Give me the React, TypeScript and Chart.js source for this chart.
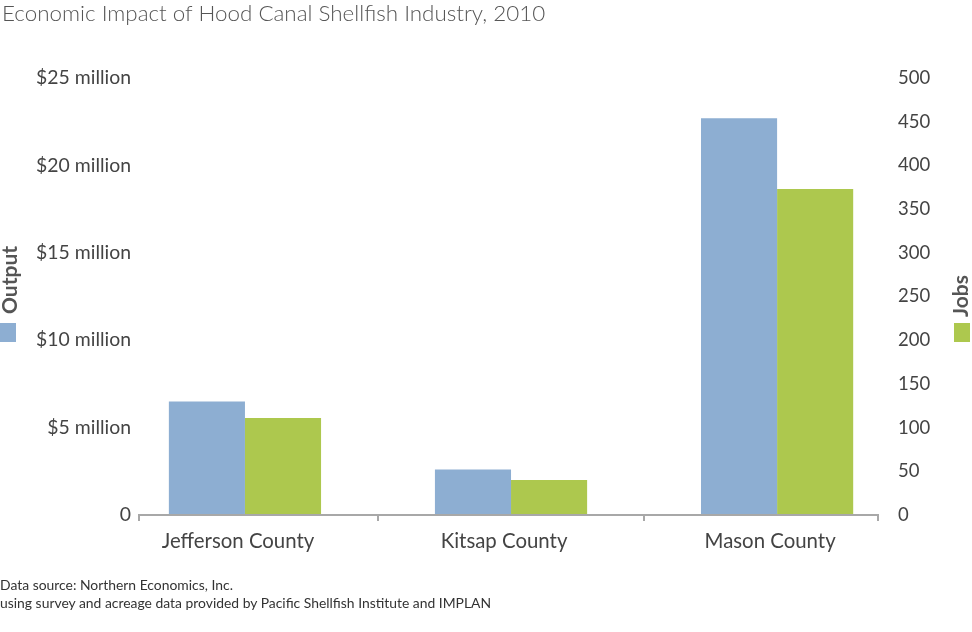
import React, { useEffect, useRef } from "react";
import { Chart, registerables } from "chart.js";

Chart.register(...registerables);

const categories = ["Jefferson County", "Kitsap County", "Mason County"];
const outputMillions = [6.5, 2.6, 22.7];
const jobs = [111, 40, 373];
const outputTicks = [0, 5, 10, 15, 20, 25];
const jobTicks = [0, 50, 100, 150, 200, 250, 300, 350, 400, 450, 500];

const BLUE = "rgb(141,174,210)";
const GREEN = "rgb(173,200,78)";
const TEXT = "#444";
const FONT = "Lato, 'Open Sans', sans-serif";

const axisLinePlugin = {
  id: "axisLine",
  afterDatasetsDraw(chart: any) {
    const { ctx, chartArea } = chart;
    const x = chart.scales.x;
    const y = chartArea.bottom;
    const n = categories.length;
    const left = chartArea.left;
    const right = chartArea.right;
    ctx.save();
    ctx.strokeStyle = "#a8a8a8";
    ctx.lineWidth = 2;
    ctx.beginPath();
    ctx.moveTo(left, y);
    ctx.lineTo(right, y);
    const tickXs = [left + 1, right - 1];
    for (let i = 0; i < n - 1; i++) {
      tickXs.push(Math.round(x.getPixelForValue(i + 0.5)));
    }
    tickXs.forEach((tx) => {
      ctx.moveTo(tx, y);
      ctx.lineTo(tx, y + 6);
    });
    ctx.stroke();
    ctx.restore();
  },
};

export default function App() {
  const canvasRef = useRef<HTMLCanvasElement | null>(null);

  useEffect(() => {
    if (!canvasRef.current) return;
    const chart = new Chart(canvasRef.current, {
      type: "bar",
      data: {
        labels: categories,
        datasets: [
          {
            label: "Output",
            data: outputMillions.map((v, i) => ({ x: i, y: v })),
            backgroundColor: BLUE,
            yAxisID: "yOut",
            categoryPercentage: 0.572,
            barPercentage: 1,
          },
          {
            label: "Jobs",
            data: jobs.map((v, i) => ({ x: i, y: v })),
            backgroundColor: GREEN,
            yAxisID: "yJobs",
            categoryPercentage: 0.572,
            barPercentage: 1,
          },
        ],
      },
      options: {
        animation: false,
        responsive: false,
        maintainAspectRatio: false,
        layout: { padding: { top: 78, bottom: 57, left: 0, right: 0 } },
        plugins: {
          legend: { display: false },
          title: { display: false },
          tooltip: { enabled: false },
        },
        scales: {
          x: {
            type: "linear",
            offset: false,
            min: -0.402,
            max: 2.383,
            grid: { display: false, drawTicks: false },
            border: { display: false },
            afterBuildTicks: (s: any) => {
              s.ticks = categories.map((_, i) => ({ value: i }));
            },
            ticks: {
              color: TEXT,
              font: { family: FONT, size: 20.4 },
              padding: 14,
              labelOffset: -7,
              maxRotation: 0,
              autoSkip: false,
              callback: (v: any) => categories[Math.round(Number(v))] ?? "",
            },
            afterFit: (s: any) => {
              s.height = 60;
            },
          },
          yOut: {
            position: "left",
            min: 0,
            max: 25,
            grid: { display: false, drawTicks: false },
            border: { display: false },
            afterBuildTicks: (s: any) => {
              s.ticks = outputTicks.map((v) => ({ value: v }));
            },
            ticks: {
              color: TEXT,
              font: { family: FONT, size: 19.4 },
              padding: 7,
              callback: (v: any) => (Number(v) === 0 ? "0" : "$" + v + " million"),
            },
            afterFit: (s: any) => {
              s.width = 138;
            },
          },
          yJobs: {
            position: "right",
            min: 0,
            max: 500,
            grid: { display: false, drawTicks: false },
            border: { display: false },
            afterBuildTicks: (s: any) => {
              s.ticks = jobTicks.map((v) => ({ value: v }));
            },
            ticks: {
              color: TEXT,
              font: { family: FONT, size: 18.5 },
              padding: 19,
            },
            afterFit: (s: any) => {
              s.width = 93;
            },
          },
        },
      },
      plugins: [axisLinePlugin],
    });
    return () => chart.destroy();
  }, []);

  const rot: React.CSSProperties = {
    position: "absolute",
    transform: "translate(-50%, -50%) rotate(-90deg)",
    fontFamily: FONT,
    fontWeight: 700,
    fontSize: 21,
    color: "#555",
    whiteSpace: "nowrap",
    lineHeight: "22px",
  };

  return (
    <div style={{ position: "fixed", left: 0, top: 0, width: 972, height: 632, background: "#fff" }}>
      <canvas ref={canvasRef} width={972} height={632} style={{ position: "absolute", left: 0, top: 0 }} />
      <div
        style={{
          position: "absolute",
          left: 2,
          top: 0,
          fontFamily: FONT,
          fontWeight: 300,
          fontSize: 22.4,
          color: "#555",
          whiteSpace: "nowrap",
          lineHeight: "26px",
        }}
      >
        Economic Impact of Hood Canal Shellfish Industry, 2010
      </div>
      <div style={{ ...rot, left: 9, top: 280 }}>Output</div>
      <div style={{ position: "absolute", left: 0, top: 323, width: 16, height: 19, background: BLUE }} />
      <div style={{ ...rot, left: 960, top: 296 }}>Jobs</div>
      <div style={{ position: "absolute", left: 954, top: 323, width: 16, height: 19, background: GREEN }} />
      <div
        style={{
          position: "absolute",
          left: 0,
          top: 576,
          fontFamily: FONT,
          fontSize: 13.9,
          color: "#333",
          lineHeight: "18px",
          whiteSpace: "nowrap",
        }}
      >
        Data source: Northern Economics, Inc.
        <br />
        using survey and acreage data provided by Pacific Shellfish Institute and IMPLAN
      </div>
    </div>
  );
}
